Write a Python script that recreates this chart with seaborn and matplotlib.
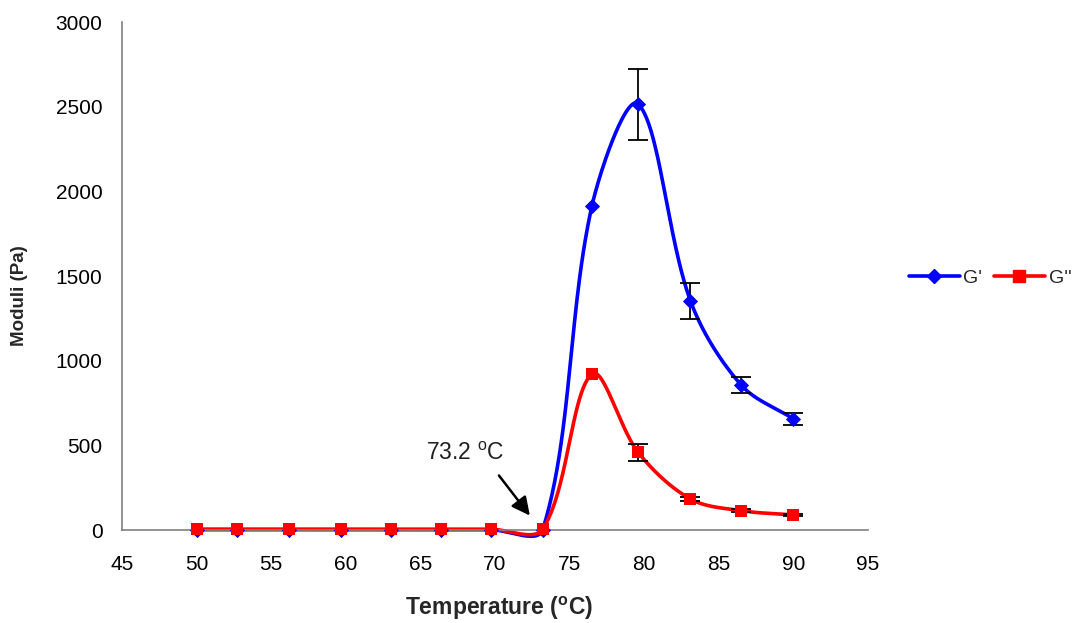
import numpy as np
import pandas as pd
import matplotlib
matplotlib.use("Agg")
import matplotlib.pyplot as plt
import seaborn as sns
from matplotlib.lines import Line2D

# ---- data ----
temperature = [50.0, 52.7, 56.2, 59.7, 63.0, 66.4, 69.7, 73.2, 76.5, 79.6, 83.1, 86.5, 90.0]
g_prime = [2, 2, 2, 2, 2, 2, 2, 2, 1915, 2515, 1353, 856, 656]
g_prime_err = [0, 0, 0, 0, 0, 0, 0, 0, 0, 210, 105, 45, 35]
g_double = [5, 5, 5, 5, 5, 5, 5, 5, 921, 458, 183, 114, 89]
g_double_err = [0, 0, 0, 0, 0, 0, 0, 0, 0, 50, 12, 8, 6]
x_ticks = [45, 50, 55, 60, 65, 70, 75, 80, 85, 90, 95]
y_ticks = [0, 500, 1000, 1500, 2000, 2500, 3000]
onset_label = "73.2"

XLIM = (45, 95)
YLIM = (0, 3000)
# plot-area size in pixels (used only to make the smoothing shape-aware)
PW, PH = 746.0, 508.0


def smooth(xs, ys, n=50):
    """Excel-like smoothed line: cubic Bezier segments, control lengths scaled by segment lengths."""
    X = (np.asarray(xs, float) - XLIM[0]) / (XLIM[1] - XLIM[0]) * PW
    Y = (np.asarray(ys, float) - YLIM[0]) / (YLIM[1] - YLIM[0]) * PH
    P = np.column_stack([X, Y])
    m = len(P)
    d = np.linalg.norm(np.diff(P, axis=0), axis=1)
    out = []
    for i in range(m - 1):
        p1, p2 = P[i], P[i + 1]
        if i > 0:
            t1 = (P[i + 1] - P[i - 1]) * d[i] / (d[i - 1] + d[i]) / 3.0
        else:
            t1 = (p2 - p1) / 3.0
        if i + 2 < m:
            t2 = (P[i + 2] - P[i]) * d[i] / (d[i] + d[i + 1]) / 3.0
        else:
            t2 = (p2 - p1) / 3.0
        c1 = p1 + t1
        c2 = p2 - t2
        t = np.linspace(0, 1, n)[:, None]
        seg = ((1 - t) ** 3) * p1 + 3 * ((1 - t) ** 2) * t * c1 + 3 * (1 - t) * t ** 2 * c2 + t ** 3 * p2
        if i > 0:
            seg = seg[1:]
        out.append(seg)
    out = np.vstack(out)
    sx = out[:, 0] / PW * (XLIM[1] - XLIM[0]) + XLIM[0]
    sy = out[:, 1] / PH * (YLIM[1] - YLIM[0]) + YLIM[0]
    return sx, sy


sns.set_style("white")
plt.rcParams["font.family"] = ["Liberation Sans", "DejaVu Sans"]
plt.rcParams["mathtext.fontset"] = "custom"
plt.rcParams["mathtext.rm"] = "Liberation Sans"
plt.rcParams["mathtext.bf"] = "Liberation Sans:bold"

fig = plt.figure(figsize=(10.79, 6.23), dpi=100)
ax = fig.add_axes([122 / 1079, 1 - 530 / 623, 746 / 1079, 508 / 623])

blue = "#0000FF"
red = "#FF0000"

sx1, sy1 = smooth(temperature, g_prime)
sx2, sy2 = smooth(temperature, g_double)
curves = pd.DataFrame({
    "T": np.concatenate([sx1, sx2]),
    "M": np.concatenate([sy1, sy2]),
    "series": ["G'"] * len(sx1) + ["G''"] * len(sx2),
})
sns.lineplot(data=curves, x="T", y="M", hue="series", palette={"G'": blue, "G''": red},
             sort=False, estimator=None, units="series", linewidth=2.6, legend=False, ax=ax)
for ln in ax.lines:
    ln.set_clip_on(False)

# error bars
for vals, errs in [(g_prime, g_prime_err), (g_double, g_double_err)]:
    idx = [i for i, e in enumerate(errs) if e > 0]
    ax.errorbar([temperature[i] for i in idx], [vals[i] for i in idx],
                yerr=[errs[i] for i in idx], fmt="none", ecolor="black",
                elinewidth=1.3, capsize=7, capthick=1.3, zorder=3)

pts = pd.DataFrame({"T": temperature, "Gp": g_prime, "Gd": g_double})
sns.scatterplot(data=pts, x="T", y="Gp", marker="D", s=60, color=blue, edgecolor=blue,
                linewidth=0, ax=ax, zorder=4, clip_on=False)
sns.scatterplot(data=pts, x="T", y="Gd", marker="s", s=75, color=red, edgecolor=red,
                linewidth=0, ax=ax, zorder=5, clip_on=False)

ax.set_xlim(*XLIM)
ax.set_ylim(*YLIM)
ax.set_xticks(x_ticks)
ax.set_yticks(y_ticks)
ax.tick_params(axis="both", labelsize=15, colors="black", direction="out", length=5,
               width=1, color="#808080")
ax.tick_params(axis="x", pad=13)
ax.tick_params(axis="y", pad=9)
for s in ["top", "right"]:
    ax.spines[s].set_visible(False)
for s in ["left", "bottom"]:
    ax.spines[s].set_color("#808080")
    ax.spines[s].set_linewidth(1.2)

ax.set_xlabel(r"Temperature ($\mathbf{^{o}}$C)", fontsize=16.5, fontweight="bold")
ax.set_ylabel("Moduli (Pa)", fontsize=13.5, fontweight="bold")
ax.xaxis.set_label_coords(0.506, -0.1535)
ax.xaxis.label.set_va("center")
ax.yaxis.set_label_coords(-0.137, 0.4606)
ax.yaxis.label.set_va("center")

ax.annotate("", xy=(72.45, 72), xytext=(70.15, 335),
            arrowprops=dict(arrowstyle="-|>,head_length=1.1,head_width=0.55", color="black", lw=1.8))
ax.text(65.35, 413, onset_label + r" $^{\rm o}$C", fontsize=16.5, color="#222222",
        ha="left", va="baseline")

handles = [Line2D([], [], color=blue, lw=2.6, marker="D", markersize=7.5),
           Line2D([], [], color=red, lw=2.6, marker="s", markersize=8.5)]
fig.legend(handles, ["G'", "G''"], loc="center left", bbox_to_anchor=(909 / 1079, 1 - 278 / 623),
           ncol=2, frameon=False, fontsize=14, handlelength=2.6, handletextpad=0.2,
           columnspacing=0.6, borderpad=0, borderaxespad=0)

fig.savefig("out.png", dpi=100)
